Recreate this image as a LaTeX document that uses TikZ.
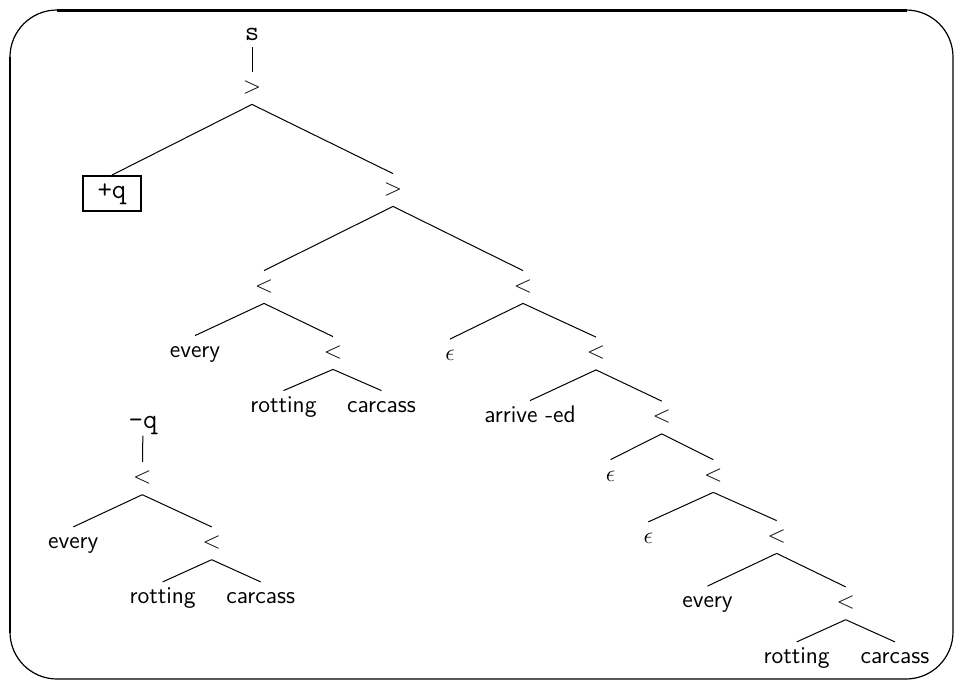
\documentclass[tikz,border=0pt]{standalone}
\begin{document}
\begin{tikzpicture}[x=0.5pt,y=-0.5pt,word/.style={font=\sffamily\fontsize{12}{14}\selectfont, inner xsep=0pt, inner ysep=2.5pt, text height=8pt, text depth=3pt},op/.style={word, font=\fontsize{12.5}{14}\selectfont},feat/.style={word, font=\ttfamily\fontsize{14}{16}\selectfont, inner ysep=0.5pt},boxed/.style={feat, draw, line width=1pt, minimum width=28.7pt, minimum height=17.3pt},edge/.style={line width=0.5pt}]
\useasboundingbox (0,0) rectangle (955,680);
\draw[line width=0.6pt, rounded corners=23.5pt] (10,10) rectangle (953,679);
\draw[line width=1.5pt] (57,10) -- (907,10); \draw[line width=1.2pt] (10,57) -- (10,633);
\node[feat] (s) at (252,35) {s}; \node[op] (g1) at (252,88) {$>$}; \node[boxed] (q1) at (112,193.3) {+q}; \node[op] (g2) at (393,190) {$>$};
\node[op] (l1) at (264,287) {$<$}; \node[op] (r1) at (523,287) {$<$};
\node[word] (ev1) at (195,352) {every}; \node[op] (l2) at (333,353) {$<$}; \node[word] (ro1) at (283.5,407) {rotting}; \node[word] (ca1) at (381.5,407) {carcass};
\node[op] (ep1) at (450,355.5) {$\epsilon$}; \node[op] (r2) at (596,353.5) {$<$}; \node[word] (ar) at (530,417) {arrive -ed}; \node[op] (r3) at (661.7,417.5) {$<$};
\node[op] (ep2) at (610.5,476) {$\epsilon$}; \node[op] (r4) at (713.3,476) {$<$}; \node[op] (ep3) at (648.3,538.3) {$\epsilon$}; \node[op] (r5) at (776.7,537) {$<$};
\node[word] (ev2) at (707.5,602.5) {every}; \node[op] (r6) at (845.7,603.3) {$<$}; \node[word] (ro2) at (796.7,658.3) {rotting}; \node[word] (ca2) at (895,658.3) {carcass};
\node[feat] (mq) at (143,423.3) {-q}; \node[op] (m1) at (142.3,478.3) {$<$}; \node[word] (ev3) at (73.3,543.3) {every}; \node[op] (m2) at (211.7,543.3) {$<$};
\node[word] (ro3) at (162.7,598.3) {rotting}; \node[word] (ca3) at (260.7,598.3) {carcass};
\draw[edge] (s) -- (g1); \draw[edge] (g1.south) -- (q1.north); \draw[edge] (g1.south) -- (g2.north);
\draw[edge] (g2.south) -- (l1.north); \draw[edge] (g2.south) -- (r1.north);
\draw[edge] (l1.south) -- (ev1.north); \draw[edge] (l1.south) -- (l2.north); \draw[edge] (l2.south) -- (ro1.north); \draw[edge] (l2.south) -- (ca1.north);
\draw[edge] (r1.south) -- (ep1.north); \draw[edge] (r1.south) -- (r2.north); \draw[edge] (r2.south) -- (ar.north); \draw[edge] (r2.south) -- (r3.north);
\draw[edge] (r3.south) -- (ep2.north); \draw[edge] (r3.south) -- (r4.north); \draw[edge] (r4.south) -- (ep3.north); \draw[edge] (r4.south) -- (r5.north);
\draw[edge] (r5.south) -- (ev2.north); \draw[edge] (r5.south) -- (r6.north); \draw[edge] (r6.south) -- (ro2.north); \draw[edge] (r6.south) -- (ca2.north);
\draw[edge] (mq) -- (m1); \draw[edge] (m1.south) -- (ev3.north); \draw[edge] (m1.south) -- (m2.north); \draw[edge] (m2.south) -- (ro3.north); \draw[edge] (m2.south) -- (ca3.north);
\end{tikzpicture}
\end{document}
